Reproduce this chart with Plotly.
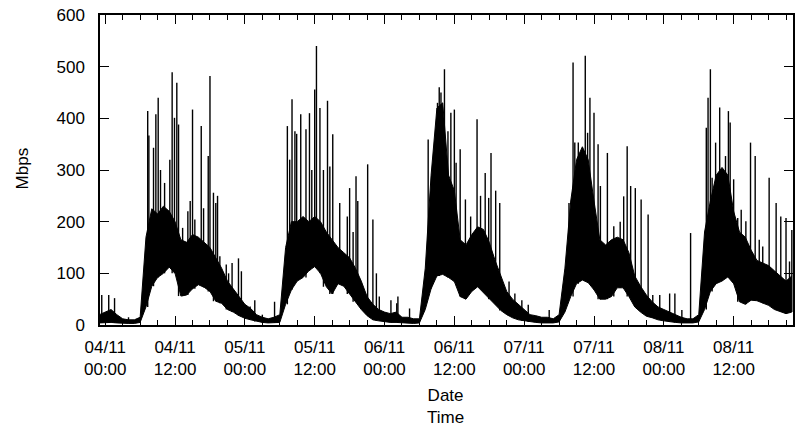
import pandas as pd
import plotly.graph_objects as go

# Hourly traffic envelope, hour offsets relative to 04/11 00:00
HOURS = list(range(-1, 119))

# lower edge of the trace (Mbps) for each hour
LOW = [
    4, 5, 5, 4, 3, 3, 3, 5, 35, 75,          # -1 .. 8
    92, 100, 112, 100, 56, 58, 70, 78, 73, 65,  # 9 .. 18
    46, 42, 30, 25, 18, 13, 10, 7, 5, 4,      # 19 .. 28
    4, 5, 40, 68, 85, 92, 105, 113, 100, 74,  # 29 .. 38
    60, 80, 75, 60, 45, 30, 18, 10, 8, 6,     # 39 .. 48
    5, 5, 4, 4, 3, 4, 30, 70, 95, 98,         # 49 .. 58
    92, 84, 55, 50, 65, 74, 62, 50, 40, 28,   # 59 .. 68
    20, 14, 10, 8, 6, 5, 4, 4, 4, 6,          # 69 .. 78
    25, 55, 80, 87, 82, 68, 50, 50, 55, 72,   # 79 .. 88
    72, 55, 35, 25, 17, 14, 10, 8, 6, 5,      # 89 .. 98
    4, 4, 4, 6, 30, 65, 80, 85, 93, 80,       # 99 .. 108
    45, 40, 48, 47, 42, 38, 30, 26, 22, 25,   # 109 .. 118
]

# upper edge of the dense part of the trace (Mbps) for each hour
MID = [
    20, 25, 30, 20, 12, 10, 10, 15, 170, 225,
    215, 230, 220, 200, 165, 160, 175, 170, 160, 150,
    130, 110, 85, 70, 55, 40, 32, 20, 15, 12,
    15, 20, 150, 200, 200, 210, 200, 210, 200, 180,
    165, 150, 140, 130, 110, 85, 55, 40, 30, 25,
    22, 25, 15, 15, 12, 12, 110, 290, 420, 430,
    290, 260, 165, 155, 175, 190, 185, 160, 125, 95,
    65, 50, 40, 30, 20, 18, 15, 15, 12, 20,
    110, 240, 320, 345, 320, 240, 165, 155, 165, 170,
    165, 140, 95, 75, 58, 45, 35, 30, 25, 20,
    15, 12, 12, 20, 180, 240, 290, 305, 290, 220,
    180, 170, 145, 125, 120, 115, 105, 95, 85, 95,
]

# individual bursts: hour offset and peak rate (Mbps)
SPIKE_HOURS = [
    -0.6, 0.6, 1.6, 4.0,
    7.3, 7.5, 8.3, 8.7, 9.1, 9.5, 10.2, 11.1, 11.5, 11.9, 12.3, 12.6,
    13.3, 14.2, 14.6, 15.0, 15.4, 16.5, 16.9, 17.7, 18.0, 18.6, 19.0,
    19.3, 19.7, 20.8, 21.2, 21.8, 22.9, 23.4, 24.9, 25.7, 27.0, 29.1,
    31.3, 31.7, 32.1, 32.6, 32.9, 33.6, 34.5, 35.1, 35.5, 36.0, 36.3,
    36.9, 37.5, 38.2, 38.6, 39.1, 40.3, 41.6, 42.0, 42.6, 43.1, 43.4,
    45.1, 46.0, 46.6, 47.1, 49.1, 50.1, 50.3, 52.3,
    55.5, 56.0, 56.6, 57.1, 57.4, 57.7, 58.3, 58.9, 59.4, 60.0, 60.3,
    61.0, 61.9, 62.8, 63.9, 64.5, 65.3, 65.9, 66.3, 67.1, 67.8, 69.4,
    70.4, 71.6, 72.7, 76.3,
    79.7, 80.4, 80.7, 81.3, 81.7, 82.5, 82.9, 83.3, 84.0, 84.7, 85.1,
    86.3, 86.9, 87.4, 88.5, 89.1, 89.7, 90.3, 91.1, 92.1, 93.3, 94.1,
    95.3, 97.0, 97.9,
    99.1, 100.6, 103.3, 103.6, 104.0, 104.3, 104.9, 105.6, 106.0, 106.6,
    107.1, 107.4, 108.0, 108.7, 109.3, 110.1, 110.9, 111.7, 112.4, 113.0,
    114.1, 115.3, 116.1, 117.0, 117.6, 118.0,
]
SPIKE_MBPS = [
    58, 58, 52, 15,
    414, 367, 343, 408, 440, 300, 275, 320, 489, 401, 469, 388,
    188, 220, 240, 417, 204, 385, 226, 327, 482, 256, 236,
    250, 133, 117, 100, 120, 129, 104, 36, 48, 20, 45,
    385, 320, 437, 375, 370, 408, 379, 410, 300, 456, 540,
    420, 300, 434, 307, 369, 236, 210, 265, 180, 288, 240,
    311, 204, 100, 55, 48, 42, 55, 32,
    359, 250, 343, 430, 460, 450, 495, 375, 411, 417, 314,
    340, 243, 210, 398, 250, 294, 246, 333, 260, 236, 84,
    61, 48, 39, 29,
    236, 508, 353, 353, 320, 521, 372, 440, 411, 350, 269,
    333, 160, 191, 200, 249, 346, 269, 265, 243, 214, 58,
    58, 61, 61,
    29, 178, 382, 440, 495, 285, 353, 421, 300, 327,
    414, 392, 282, 207, 223, 201, 353, 327, 165, 152,
    285, 236, 210, 207, 123, 184,
]

X_RANGE_HOURS = [-0.9, 118.2]
Y_TICKS = [0, 100, 200, 300, 400, 500, 600]

START = pd.Timestamp("2009-11-04 00:00")


def to_time(h):
    return START + pd.to_timedelta(h, unit="h")


times = [to_time(h) for h in HOURS]

fig = go.Figure()

# dense band between the lower and upper edge of the trace
fig.add_trace(go.Scatter(x=times, y=LOW, mode="lines",
                         line=dict(color="black", width=1),
                         hoverinfo="skip", showlegend=False))
fig.add_trace(go.Scatter(x=times, y=MID, mode="lines",
                         line=dict(color="black", width=1),
                         fill="tonexty", fillcolor="black",
                         hoverinfo="skip", showlegend=False))

# bursts drawn as thin vertical strokes rising from the trace floor
sx, sy = [], []
for h, v in zip(SPIKE_HOURS, SPIKE_MBPS):
    idx = min(max(int(round(h)) - HOURS[0], 0), len(LOW) - 1)
    t = to_time(h)
    sx += [t, t, None]
    sy += [LOW[idx], v, None]
fig.add_trace(go.Scatter(x=sx, y=sy, mode="lines",
                         line=dict(color="black", width=1.4),
                         hoverinfo="skip", showlegend=False))

FONT = "Liberation Sans, Arial, sans-serif"

fig.update_layout(
    width=795, height=426,
    margin=dict(l=100, r=0, t=15, b=101),
    paper_bgcolor="white", plot_bgcolor="white",
    font=dict(family=FONT, size=17, color="black"),
    showlegend=False,
    xaxis=dict(
        type="date",
        range=[to_time(X_RANGE_HOURS[0]), to_time(X_RANGE_HOURS[1])],
        tick0=START, dtick=12 * 3600 * 1000,
        tickformat="%d/%m<br>%H:%M",
        ticks="inside", ticklen=9, tickwidth=1, tickcolor="black",
        minor=dict(dtick=3 * 3600 * 1000, ticks="inside", ticklen=5,
                   tickwidth=1, tickcolor="black", showgrid=False),
        showline=True, linecolor="black", linewidth=1.5,
        mirror="allticks", showgrid=False, zeroline=False,
        ticklabelstandoff=6,
    ),
    yaxis=dict(
        range=[0, 600],
        tickvals=Y_TICKS,
        ticks="inside", ticklen=9, tickwidth=1, tickcolor="black",
        showline=True, linecolor="black", linewidth=1.5,
        mirror="allticks", showgrid=False, zeroline=False,
        ticklabelstandoff=10,
    ),
    annotations=[
        dict(text="Mbps", textangle=-90, xref="paper", yref="paper",
             x=-0.1122, y=0.506, xanchor="center", yanchor="middle",
             showarrow=False, font=dict(family=FONT, size=17)),
        dict(text="Date<br>Time", xref="paper", yref="paper",
             x=0.499, y=-0.2645, xanchor="center", yanchor="middle",
             showarrow=False, font=dict(family=FONT, size=17)),
    ],
)

fig.write_html("out.html")
